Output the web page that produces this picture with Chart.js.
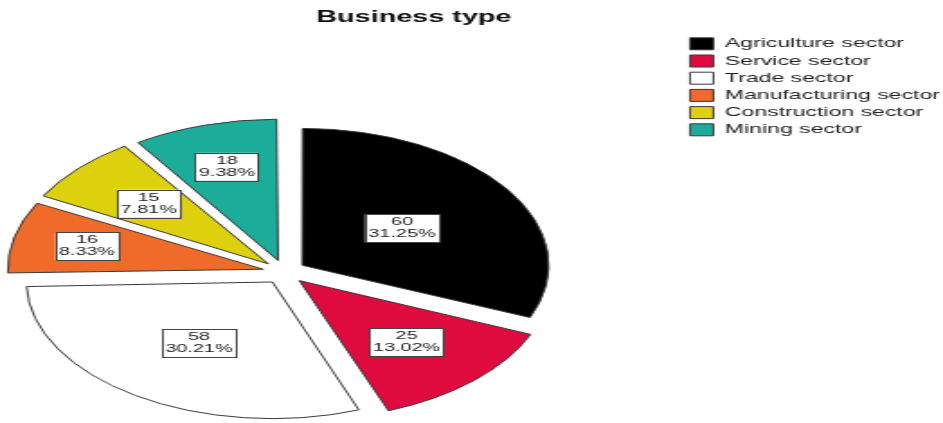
<!DOCTYPE html>
<html>
<head>
<meta charset="utf-8">
<title>Business type</title>
<script src="https://cdn.jsdelivr.net/npm/chart.js@4"></script>
<style>
    html, body { margin: 0; padding: 0; background: #fff; overflow: hidden; }
    /* the SPSS export is stretched sideways, so draw narrow and scale it out */
    #wrap { position: relative; width: 524px; height: 423px; transform: scaleX(1.7996); transform-origin: 0 0; }
</style>
</head>
<body>
<div id="wrap"><canvas id="pieChart"></canvas></div>
<script>
const categories = ['Agriculture sector', 'Service sector', 'Trade sector', 'Manufacturing sector', 'Construction sector', 'Mining sector'];
const counts = [60, 25, 58, 16, 15, 18];

const sliceColors = ['#000000', '#df0a3e', '#ffffff', '#f06a2a', '#dcd10c', '#1bac9a'];
// how far along the radius each count box sits
const labelDepth = [0.49, 0.63, 0.54, 0.74, 0.66, 0.72];

const total = counts.reduce((a, b) => a + b, 0);
const fontFamily = '"Liberation Sans", Arial, sans-serif';
Chart.defaults.font.family = fontFamily;

// put the pie low and left, clear of the legend
const pieArea = {
    id: 'pieArea',
    afterLayout(chart) {
        Object.assign(chart.chartArea, { left: 11, right: 305, top: 125, bottom: 419, width: 294, height: 294 });
    }
};

const titleText = {
    id: 'titleText',
    afterDraw(chart) {
        const ctx = chart.ctx;
        ctx.save();
        ctx.font = 'bold 16px ' + fontFamily;
        ctx.fillStyle = '#111';
        ctx.textAlign = 'center';
        ctx.textBaseline = 'middle';
        ctx.fillText('Business type', 230, 18);
        ctx.restore();
    }
};

const countBoxes = {
    id: 'countBoxes',
    afterDatasetsDraw(chart) {
        const ctx = chart.ctx;
        const meta = chart.getDatasetMeta(0);
        ctx.save();
        ctx.font = '11px ' + fontFamily;
        ctx.textAlign = 'center';
        ctx.textBaseline = 'middle';
        meta.data.forEach((arc, i) => {
            const { x, y, startAngle, endAngle, outerRadius } = arc.getProps(['x', 'y', 'startAngle', 'endAngle', 'outerRadius'], true);
            const mid = (startAngle + endAngle) / 2;
            const r = arc.options.offset / 4 + labelDepth[i] * outerRadius;
            const cx = x + Math.cos(mid) * r;
            const cy = y + Math.sin(mid) * r;
            const lines = [String(counts[i]), (counts[i] / total * 100).toFixed(2) + '%'];
            const w = Math.max(...lines.map(l => ctx.measureText(l).width)) + 4;
            const h = 28;
            ctx.fillStyle = '#fff';
            ctx.fillRect(cx - w / 2, cy - h / 2, w, h);
            ctx.strokeStyle = '#444';
            ctx.lineWidth = 1;
            ctx.strokeRect(Math.round(cx - w / 2) + 0.5, Math.round(cy - h / 2) + 0.5, Math.round(w), h);
            ctx.fillStyle = '#222';
            ctx.fillText(lines[0], cx, cy - 6);
            ctx.fillText(lines[1], cx, cy + 6);
        });
        ctx.restore();
    }
};

new Chart(document.getElementById('pieChart'), {
    type: 'pie',
    data: {
        labels: categories,
        datasets: [{
            data: counts,
            backgroundColor: sliceColors,
            borderColor: '#3a3a3a',
            borderWidth: 1,
            offset: 48,
            radius: 136
        }]
    },
    options: {
        responsive: true,
        maintainAspectRatio: false,
        animation: false,
        layout: { padding: { top: 33, right: 0, bottom: 0, left: 0 } },
        plugins: {
            title: { display: false },
            tooltip: { enabled: false },
            legend: {
                position: 'right',
                align: 'start',
                fullSize: true,
                maxWidth: 145,
                labels: {
                    boxWidth: 13,
                    boxHeight: 12,
                    padding: 4.4,
                    color: '#222',
                    font: { size: 12.8 }
                }
            }
        }
    },
    plugins: [pieArea, titleText, countBoxes]
});
</script>
</body>
</html>
